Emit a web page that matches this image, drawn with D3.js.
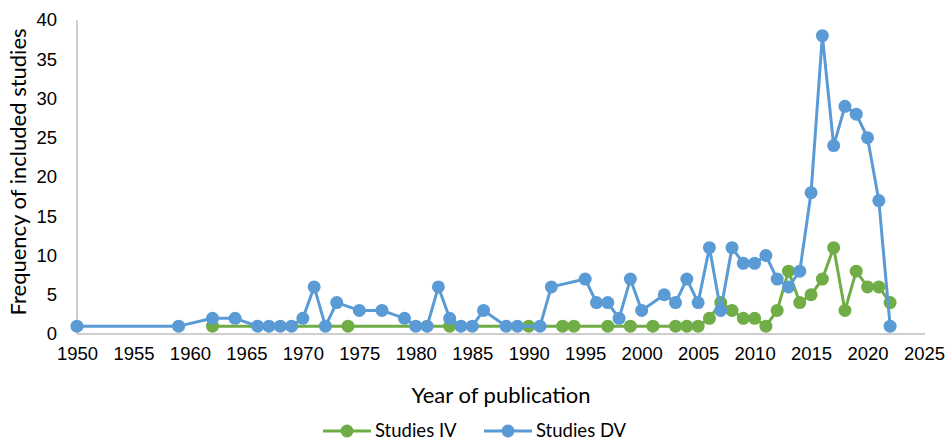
<!DOCTYPE html>
<html>
<head>
<meta charset="utf-8">
<script src="https://cdn.jsdelivr.net/npm/d3@7.9.0/dist/d3.min.js"></script>
<style>
  body { margin: 0; background: #fff; }
  svg { font-family: Lato, "Open Sans", "Liberation Sans", sans-serif; }
</style>
</head>
<body>
<svg id="chart" width="949" height="441"></svg>
<script>
// Studies IV (green)
const yearsIV = [1962, 1974, 1983, 1990, 1993, 1994, 1997, 1999, 2001, 2003, 2004, 2005,
  2006, 2007, 2008, 2009, 2010, 2011, 2012, 2013, 2014, 2015, 2016, 2017, 2018, 2019, 2020, 2021, 2022];
const valuesIV = [1, 1, 1, 1, 1, 1, 1, 1, 1, 1, 1, 1,
  2, 4, 3, 2, 2, 1, 3, 8, 4, 5, 7, 11, 3, 8, 6, 6, 4];

// Studies DV (blue)
const yearsDV = [1950, 1959, 1962, 1964, 1966, 1967, 1968, 1969, 1970, 1971, 1972, 1973, 1975, 1977,
  1979, 1980, 1981, 1982, 1983, 1984, 1985, 1986, 1988, 1989, 1991, 1992, 1995, 1996, 1997, 1998,
  1999, 2000, 2002, 2003, 2004, 2005, 2006, 2007, 2008, 2009, 2010, 2011, 2012, 2013, 2014, 2015,
  2016, 2017, 2018, 2019, 2020, 2021, 2022];
const valuesDV = [1, 1, 2, 2, 1, 1, 1, 1, 2, 6, 1, 4, 3, 3,
  2, 1, 1, 6, 2, 1, 1, 3, 1, 1, 1, 6, 7, 4, 4, 2,
  7, 3, 5, 4, 7, 4, 11, 3, 11, 9, 9, 10, 7, 6, 8, 18,
  38, 24, 29, 28, 25, 17, 1];

const xTicks = d3.range(1950, 2026, 5);
const yTicks = d3.range(0, 41, 5);

const series = [
  { name: 'Studies IV', color: '#70AD47', data: yearsIV.map((y, i) => ({ year: y, value: valuesIV[i] })) },
  { name: 'Studies DV', color: '#5B9BD5', data: yearsDV.map((y, i) => ({ year: y, value: valuesDV[i] })) },
];

const svg = d3.select('#chart');
const plot = { left: 77, right: 924, top: 20, bottom: 334 };

const x = d3.scaleLinear().domain([1950, 2025]).range([plot.left, plot.right]);
const y = d3.scaleLinear().domain([0, 40]).range([plot.bottom, plot.top]);

// axes
const xAxis = svg.append('g')
  .attr('transform', `translate(0,${plot.bottom})`)
  .call(d3.axisBottom(x).tickValues(xTicks).tickFormat(d3.format('d')).tickSize(0).tickPadding(20));
const yAxis = svg.append('g')
  .attr('transform', `translate(${plot.left},0)`)
  .call(d3.axisLeft(y).tickValues(yTicks).tickSize(0).tickPadding(20));

[xAxis, yAxis].forEach(g => {
  g.select('.domain').attr('stroke', '#BFBFBF').attr('stroke-width', 1.5);
  g.selectAll('text').attr('fill', '#000').style('font-size', '18.5px');
});
xAxis.selectAll('text').attr('dy', '0.35em');
yAxis.select('.domain').attr('d', `M0,${plot.top}V${plot.bottom}`);
xAxis.select('.domain').attr('d', `M${plot.left},0H${plot.right + 1}`);

// lines + markers
const line = d3.line().x(d => x(d.year)).y(d => y(d.value));
series.forEach(s => {
  svg.append('path')
    .datum(s.data)
    .attr('fill', 'none')
    .attr('stroke', s.color)
    .attr('stroke-width', 3)
    .attr('stroke-linejoin', 'round')
    .attr('d', line);
  svg.append('g').selectAll('circle')
    .data(s.data)
    .join('circle')
    .attr('cx', d => x(d.year))
    .attr('cy', d => y(d.value))
    .attr('r', 6.5)
    .attr('fill', s.color);
});

// axis titles
svg.append('text')
  .attr('x', 501).attr('y', 395)
  .attr('dy', '0.35em')
  .attr('text-anchor', 'middle')
  .style('font-size', '22px')
  .text('Year of publication');

svg.append('text')
  .attr('transform', `translate(18,172) rotate(-90)`)
  .attr('dy', '0.35em')
  .attr('text-anchor', 'middle')
  .style('font-size', '22px')
  .text('Frequency of included studies');

// legend
const legendX = [323, 484];
series.forEach((s, i) => {
  const g = svg.append('g').attr('transform', `translate(${legendX[i]},431)`);
  g.append('line').attr('x1', 0).attr('x2', 48).attr('stroke', s.color).attr('stroke-width', 3);
  g.append('circle').attr('cx', 24).attr('r', 6.5).attr('fill', s.color);
  g.append('text').attr('x', 52).attr('dy', '0.35em').style('font-size', '18.5px').text(s.name);
});
</script>
</body>
</html>
